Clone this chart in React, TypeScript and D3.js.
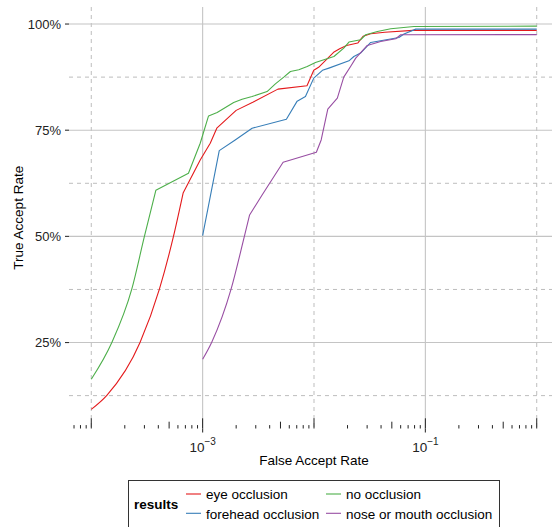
import { scaleLog, scaleLinear, extent, line, curveMonotoneX } from 'd3'

// [false accept rate, true accept rate %]
const eyeOcclusion: [number, number][] = [
  [1.0e-4, 9.27], [1.38e-4, 12.57], [2.74e-4, 25.0], [4.09e-4, 37.57], [5.47e-4, 50.0],
  [6.68e-4, 60.21],
  [9.51e-4, 68.0], [1.17e-3, 71.93], [1.34e-3, 75.47], [2.0e-3, 79.67], [2.82e-3, 81.56],
  [4.74e-3, 84.67], [8.65e-3, 85.45], [9.95e-3, 89.1], [1.1e-2, 89.81], [1.5e-2, 93.35],
  [1.7e-2, 94.17], [1.96e-2, 94.95], [2.47e-2, 95.52], [2.76e-2, 97.12], [3.23e-2, 97.71],
  [4.32e-2, 98.07], [7.71e-2, 98.5], [1, 98.5]
]
const foreheadOcclusion: [number, number][] = [
  [1.0e-3, 50.2], [1.41e-3, 70.19], [1.96e-3, 72.71], [2.78e-3, 75.47], [5.65e-3, 77.59],
  [7.06e-3, 81.84], [8.38e-3, 82.92], [9.95e-3, 87.26], [1.19e-2, 89.1], [1.36e-2, 89.62],
  [2.06e-2, 91.34], [2.28e-2, 92.36], [2.62e-2, 93.16], [3.23e-2, 95.66], [5.79e-2, 96.84],
  [6.43e-2, 97.64], [8.2e-2, 98.8], [1, 98.8]
]
const noOcclusion: [number, number][] = [
  [1.0e-4, 16.34], [1.53e-4, 25.0], [2.31e-4, 37.57], [3.0e-4, 50.0], [3.8e-4, 60.85],
  [7.46e-4, 64.86],
  [9.51e-4, 71.93], [1.13e-3, 78.37], [1.35e-3, 79.15], [1.9e-3, 81.51], [2.26e-3, 82.31],
  [2.78e-3, 82.92], [3.79e-3, 84.1], [4.5e-3, 85.92], [5.35e-3, 87.5], [6.14e-3, 88.82],
  [7.3e-3, 89.22], [8.69e-3, 90.0], [1.03e-2, 90.94], [1.51e-2, 92.36], [1.85e-2, 94.34],
  [2.06e-2, 95.75], [2.62e-2, 96.3], [2.91e-2, 97.48], [3.71e-2, 98.25], [4.89e-2, 98.89],
  [7.91e-2, 99.43], [1, 99.5]
]
const noseMouthOcclusion: [number, number][] = [
  [1.0e-3, 21.06], [1.21e-3, 25.14], [1.8e-3, 37.57], [2.37e-3, 50.0], [2.64e-3, 55.02],
  [3.42e-3, 59.74], [5.28e-3, 67.45], [1.05e-2, 69.81],
  [1.16e-2, 72.71], [1.33e-2, 79.95], [1.62e-2, 82.55], [1.85e-2, 87.5], [2.13e-2, 90.0],
  [2.37e-2, 91.98], [3.01e-2, 94.95], [3.97e-2, 95.9], [5.42e-2, 96.53], [6.01e-2, 97.48],
  [1, 97.5]
]

const seriesNames = ['eye occlusion', 'forehead occlusion', 'no occlusion', 'nose or mouth occlusion']
const seriesColors = ['#E41A1C', '#377EB8', '#4DAF4A', '#984EA3']
const seriesData = [eyeOcclusion, foreheadOcclusion, noOcclusion, noseMouthOcclusion]
// the low-FAR start of each curve is smooth in the original, up to this point index
const smoothUntil = [5, 0, 4, 4]

const yMajor = [25, 50, 75, 100]
const yMinor = [12.5, 37.5, 62.5, 87.5]
const xMajor = [1e-3, 1e-1]
const xMinor = [1e-4, 1e-2, 1]
const xMajorExp = ['\u22123', '\u22121']

const width = 552,
      height = 527,
      font = 'Liberation Sans, Arial, Helvetica, sans-serif',
      panel = { left: 69, right: 559, top: 7, bottom: 428.5 }

const all = seriesData.flat()
const [lxLo, lxHi] = extent(all, d => Math.log10(d[0])) as [number, number]
const [yLo, yHi] = extent(all, d => d[1]) as [number, number]
const xPad = (lxHi - lxLo) * 0.05, yPad = (yHi - yLo) * 0.05

const x = scaleLog()
  .domain([Math.pow(10, lxLo - xPad), Math.pow(10, lxHi + xPad)])
  .range([panel.left, panel.right])
const y = scaleLinear()
  .domain([yLo - yPad, yHi + yPad])
  .range([panel.bottom, panel.top])

const straight = line<[number, number]>().x(d => x(d[0])).y(d => y(d[1]))
const smooth = line<[number, number]>().x(d => x(d[0])).y(d => y(d[1])).curve(curveMonotoneX)

const seriesPath = (d: [number, number][], k: number) => {
  if (k <= 0) return straight(d) || ''
  const head = smooth(d.slice(0, k + 1)) || ''
  const tail = straight(d.slice(k)) || ''
  return head + tail.replace(/^M/, 'L')
}

// annotation log ticks along the bottom of the panel
const logTicks: { v: number, len: number }[] = []
for (let e = -5; e <= 0; e++) {
  for (let k = 1; k <= 9; k++) {
    const v = k * Math.pow(10, e)
    const px = x(v)
    if (px < panel.left || px > width) continue
    logTicks.push({ v, len: k === 1 ? 10.2 : k === 5 ? 6.8 : 3.4 })
  }
}

const legendRows = [
  { i: 0, lx: 186, ty: 499.3, ly: 494 },
  { i: 1, lx: 186, ty: 518.7, ly: 513.3 },
  { i: 2, lx: 326, ty: 499.3, ly: 494 },
  { i: 3, lx: 326, ty: 518.7, ly: 513.3 }
]

export default function App() {
  return (
    <svg width={width} height={height} style={{ position: 'absolute', left: 0, top: 0, background: '#fff' }}
      fontFamily={font}>
      <g className='grid'>
        {yMinor.map(v => (
          <line key={'ym' + v} x1={panel.left} x2={width} y1={y(v)} y2={y(v)}
            stroke='#bdbdbd' strokeWidth={1} strokeDasharray='4,4' />
        ))}
        {xMinor.map(v => (
          <line key={'xm' + v} x1={x(v)} x2={x(v)} y1={panel.top} y2={panel.bottom}
            stroke='#bdbdbd' strokeWidth={1} strokeDasharray='4,4' />
        ))}
        {yMajor.map(v => (
          <line key={'yM' + v} x1={panel.left} x2={width} y1={y(v)} y2={y(v)}
            stroke='#c4c4c4' strokeWidth={1.1} />
        ))}
        {xMajor.map(v => (
          <line key={'xM' + v} x1={x(v)} x2={x(v)} y1={panel.top} y2={panel.bottom}
            stroke='#c4c4c4' strokeWidth={1.1} />
        ))}
      </g>

      <g className='lines'>
        {seriesData.map((d, i) => (
          <path key={seriesNames[i]} d={seriesPath(d, smoothUntil[i])} fill='none'
            stroke={seriesColors[i]} strokeWidth={1.1} strokeLinejoin='round' />
        ))}
      </g>

      <g className='logticks'>
        {logTicks.map(t => (
          <line key={t.v} x1={x(t.v)} x2={x(t.v)} y1={panel.bottom} y2={panel.bottom - t.len}
            stroke='#222' strokeWidth={1} />
        ))}
      </g>

      <g className='axis left'>
        {yMajor.map(v => (
          <g key={v}>
            <line x1={panel.left - 4} x2={panel.left} y1={y(v)} y2={y(v)} stroke='#333' strokeWidth={1.1} />
            <text x={61} y={y(v)} dy='0.36em' textAnchor='end' fontSize={13} fill='#222'>{v}%</text>
          </g>
        ))}
      </g>

      <g className='axis bottom'>
        {xMajor.map((v, i) => (
          <g key={v}>
            <line x1={x(v)} x2={x(v)} y1={panel.bottom} y2={panel.bottom + 4} stroke='#333' strokeWidth={1.1} />
            <text x={x(v)} y={452} textAnchor='middle' fontSize={13.5} fill='#222'>
              10<tspan dy={-7} fontSize={10}>{xMajorExp[i]}</tspan>
            </text>
          </g>
        ))}
      </g>

      <text x={(panel.left + panel.right) / 2} y={465} textAnchor='middle' fontSize={13.5} fill='#000'>
        False Accept Rate
      </text>
      <text transform={`translate(23, ${(panel.top + panel.bottom) / 2}) rotate(-90)`}
        textAnchor='middle' fontSize={13.5} fill='#000'>True Accept Rate</text>

      <g className='legend'>
        <rect x={128.5} y={480.5} width={371} height={60} fill='#fff' stroke='#333' strokeWidth={1} />
        <text x={134} y={509.3} fontSize={13.5} fontWeight='bold' fill='#000'>results</text>
        {legendRows.map(r => (
          <g key={r.i}>
            <line x1={r.lx} x2={r.lx + 15} y1={r.ly} y2={r.ly} stroke={seriesColors[r.i]} strokeWidth={1.1} />
            <text x={r.lx + 20} y={r.ty} fontSize={13.5} fill='#000'>{seriesNames[r.i]}</text>
          </g>
        ))}
      </g>
    </svg>
  )
}
